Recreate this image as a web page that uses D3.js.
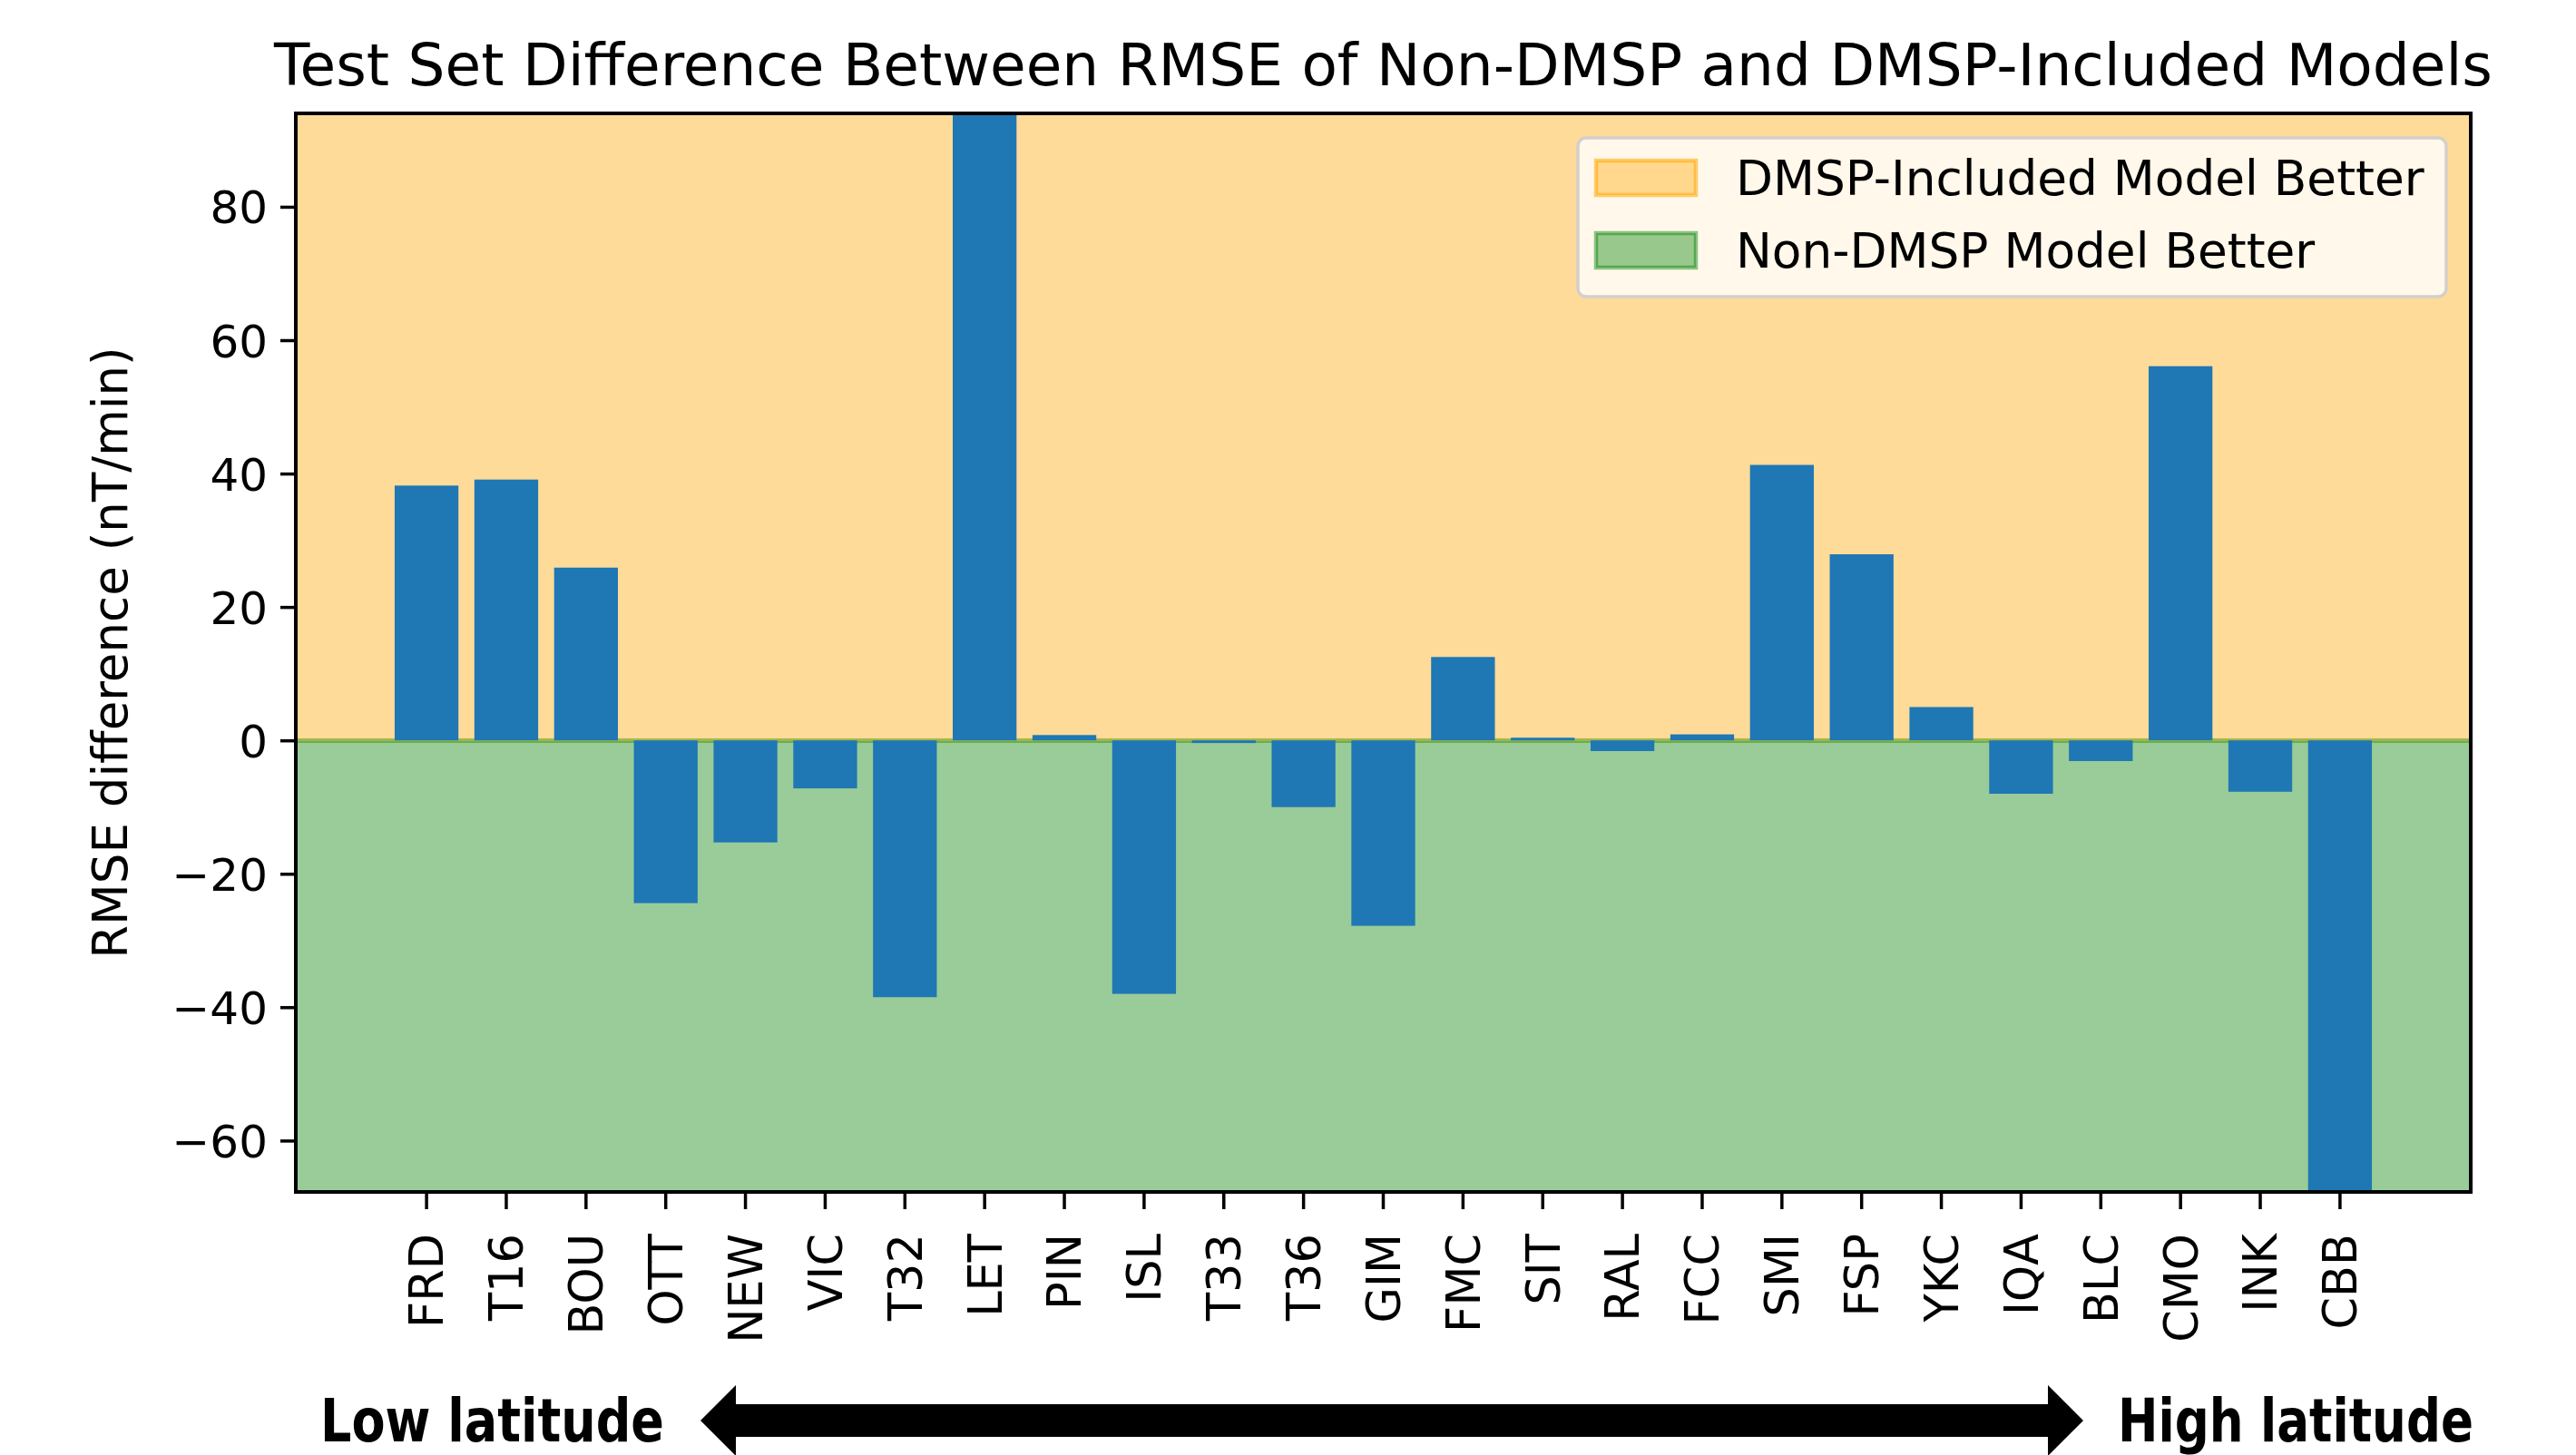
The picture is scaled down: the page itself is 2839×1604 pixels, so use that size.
<!DOCTYPE html>
<html>
<head>
<meta charset="utf-8">
<script src="https://cdn.jsdelivr.net/npm/d3@7"></script>
<style>
  html, body { margin: 0; padding: 0; background: #fff; }
  svg { display: block; }
  text { font-family: "DejaVu Sans", sans-serif; fill: #000; }
</style>
</head>
<body>
<svg id="chart" width="2839" height="1604"></svg>
<script>
// stations ordered from low to high latitude
const stations = ["FRD", "T16", "BOU", "OTT", "NEW", "VIC", "T32", "LET", "PIN", "ISL",
    "T33", "T36", "GIM", "FMC", "SIT", "RAL", "FCC", "SMI", "FSP", "YKC",
    "IQA", "BLC", "CMO", "INK", "CBB"];
// RMSE(non-DMSP) - RMSE(DMSP-included), nT/min. LET and CBB run off the axis.
const rmseDiff = [38.2, 39.1, 25.9, -24.4, -15.3, -7.2, -38.5, 100, 0.8, -38.0,
    -0.4, -10.0, -27.8, 12.5, 0.4, -1.6, 0.9, 41.3, 27.9, 5.0,
    -8.0, -3.1, 56.1, -7.7, -70];
const yTicks = [-60, -40, -20, 0, 20, 40, 60, 80];
const yDomain = [-67.7, 94.0];
const legendLabels = ["DMSP-Included Model Better", "Non-DMSP Model Better"];

const margin = { left: 326, right: 2723, top: 125, bottom: 1314 };
const svg = d3.select("#chart");

const x = d3.scaleBand()
    .domain(stations)
    .range([margin.left, margin.right])
    .paddingInner(0.2)
    .paddingOuter(1.24);

const y = d3.scaleLinear()
    .domain(yDomain)
    .range([margin.bottom, margin.top]);

svg.append("clipPath").attr("id", "plot-clip")
    .append("rect")
    .attr("x", margin.left).attr("y", margin.top)
    .attr("width", margin.right - margin.left)
    .attr("height", margin.bottom - margin.top);

const plot = svg.append("g").attr("clip-path", "url(#plot-clip)");

// shaded halves
plot.append("rect")
    .attr("x", margin.left).attr("width", margin.right - margin.left)
    .attr("y", y(yDomain[1])).attr("height", y(0) - y(yDomain[1]))
    .attr("fill", "rgb(255,219,153)");
plot.append("rect")
    .attr("x", margin.left).attr("width", margin.right - margin.left)
    .attr("y", y(0)).attr("height", y(yDomain[0]) - y(0))
    .attr("fill", "rgb(153,204,153)");
plot.append("line")
    .attr("x1", margin.left).attr("x2", margin.right)
    .attr("y1", y(0) - 1).attr("y2", y(0) - 1)
    .attr("stroke", "#a7b64e").attr("stroke-width", 2.5);
plot.append("line")
    .attr("x1", margin.left).attr("x2", margin.right)
    .attr("y1", y(0) + 1.5).attr("y2", y(0) + 1.5)
    .attr("stroke", "#6fae45").attr("stroke-width", 2.5);

// bars
plot.selectAll("rect.bar")
    .data(stations)
    .enter()
    .append("rect")
    .attr("class", "bar")
    .attr("x", d => x(d))
    .attr("width", x.bandwidth())
    .attr("y", (d, i) => y(Math.max(0, rmseDiff[i])))
    .attr("height", (d, i) => Math.abs(y(rmseDiff[i]) - y(0)))
    .attr("fill", "#1f77b4");

// axes
const yAxis = svg.append("g")
    .attr("transform", `translate(${margin.left},0)`)
    .call(d3.axisLeft(y).tickValues(yTicks).tickSize(17).tickPadding(14));
yAxis.select(".domain").remove();
yAxis.selectAll(".tick line").attr("stroke", "#000").attr("stroke-width", 3.5);
yAxis.selectAll(".tick text")
    .attr("font-size", 50)
    .attr("font-family", "DejaVu Sans")
    .attr("dy", "0.36em");

const xAxis = svg.append("g")
    .attr("transform", `translate(0,${margin.bottom})`)
    .call(d3.axisBottom(x).tickSize(19).tickPadding(0));
xAxis.select(".domain").remove();
xAxis.selectAll(".tick line").attr("stroke", "#000").attr("stroke-width", 3.5);
xAxis.selectAll(".tick text")
    .attr("font-size", 51)
    .attr("font-family", "DejaVu Sans")
    .attr("text-anchor", "end")
    .attr("transform", "rotate(-90)")
    .attr("x", -46)
    .attr("y", 0)
    .attr("dy", "0.36em");

// frame
svg.append("rect")
    .attr("x", margin.left).attr("y", margin.top)
    .attr("width", margin.right - margin.left)
    .attr("height", margin.bottom - margin.top)
    .attr("fill", "none").attr("stroke", "#000").attr("stroke-width", 4);

// title & y label
svg.append("text")
    .attr("x", (margin.left + margin.right) / 2)
    .attr("y", 94)
    .attr("text-anchor", "middle")
    .attr("font-size", 64.5)
    .text("Test Set Difference Between RMSE of Non-DMSP and DMSP-Included Models");

svg.append("text")
    .attr("transform", `translate(140,${(margin.top + margin.bottom) / 2}) rotate(-90)`)
    .attr("text-anchor", "middle")
    .attr("font-size", 53)
    .text("RMSE difference (nT/min)");

// legend
const legend = svg.append("g");
legend.append("rect")
    .attr("x", 1739).attr("y", 152)
    .attr("width", 957).attr("height", 175)
    .attr("rx", 9)
    .attr("fill", "rgba(255,255,255,0.8)")
    .attr("stroke", "#d3d0cb").attr("stroke-width", 3.5);
const legendColors = [
    { fill: "rgba(255,165,0,0.4)", stroke: "rgba(255,165,0,0.55)" },
    { fill: "rgba(0,128,0,0.4)", stroke: "rgba(0,128,0,0.45)" }
];
legendLabels.forEach((label, i) => {
    const ly = 177 + i * 80;
    legend.append("rect")
        .attr("x", 1759).attr("y", ly)
        .attr("width", 110).attr("height", 38)
        .attr("fill", legendColors[i].fill)
        .attr("stroke", legendColors[i].stroke)
        .attr("stroke-width", 4.5);
    legend.append("text")
        .attr("x", 1913).attr("y", ly + 38)
        .attr("font-size", 53.3)
        .text(label);
});

// latitude arrow
const ay = 1566;
const arrowPts = [
    [772, ay], [811, ay - 39], [811, ay - 18], [2257, ay - 18], [2257, ay - 39],
    [2296, ay], [2257, ay + 39], [2257, ay + 18], [811, ay + 18], [811, ay + 39]
];
svg.append("polygon")
    .attr("points", arrowPts.map(p => p.join(",")).join(" "))
    .attr("fill", "#000");

svg.append("text")
    .attr("x", 353).attr("y", 1589)
    .attr("font-family", "Lato, 'Open Sans', sans-serif")
    .attr("font-weight", "bold")
    .attr("font-size", 66)
    .attr("textLength", 379).attr("lengthAdjust", "spacingAndGlyphs")
    .text("Low latitude");
svg.append("text")
    .attr("x", 2334).attr("y", 1589)
    .attr("font-family", "Lato, 'Open Sans', sans-serif")
    .attr("font-weight", "bold")
    .attr("font-size", 66)
    .attr("textLength", 392).attr("lengthAdjust", "spacingAndGlyphs")
    .text("High latitude");
</script>
</body>
</html>
